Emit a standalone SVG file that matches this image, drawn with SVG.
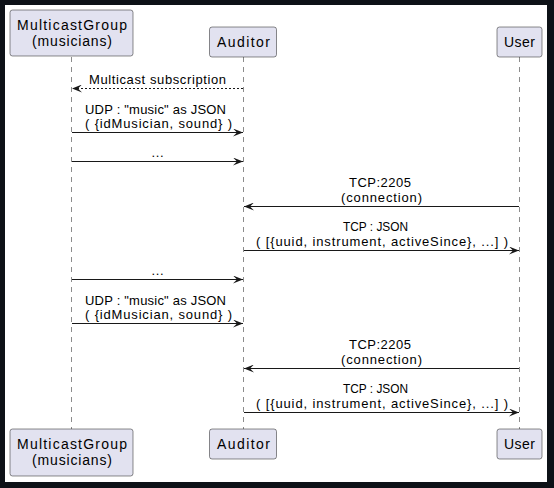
<svg xmlns="http://www.w3.org/2000/svg" width="554" height="488" viewBox="0 0 554 488">
<defs>
<style>
.p rect{fill:#E2E2F0;stroke:#181818;stroke-width:0.5}
.pt{font-family:"Liberation Sans",Arial,sans-serif;font-size:14px;fill:#000;text-anchor:middle}
.mt{font-family:"Liberation Sans",Arial,sans-serif;font-size:13px;fill:#000}
.life{stroke:#181818;stroke-width:0.5;stroke-dasharray:5,5;fill:none}
.msg{stroke:#181818;stroke-width:1;fill:none;marker-end:url(#ah)}
.dot{stroke-dasharray:2,2}
</style>
<marker id="ah" viewBox="0 0 10 8" markerWidth="10" markerHeight="8" refX="10" refY="4" orient="auto" markerUnits="userSpaceOnUse">
<path d="M0,0 L10,4 L0,8 L4,4 Z" fill="#181818"/>
</marker>
</defs>
<rect x="0" y="0" width="554" height="488" fill="#0D1117"/>
<rect x="5" y="5" width="542" height="477" fill="#FFFFFF"/>
<g id="lifelines">
<line class="life" x1="71.5" y1="57" x2="71.5" y2="429"/>
<line class="life" x1="243.5" y1="57" x2="243.5" y2="429"/>
<line class="life" x1="519.5" y1="57" x2="519.5" y2="429"/>
</g>
<g id="multicastgroup" class="p">
<rect x="10" y="10" width="123" height="46" rx="2.5"/>
<text class="pt" x="72" y="30" textLength="110" lengthAdjust="spacing">MulticastGroup</text>
<text class="pt" x="72" y="45.5" textLength="80" lengthAdjust="spacing">(musicians)</text>
<rect x="10" y="429" width="123" height="47" rx="2.5"/>
<text class="pt" x="72" y="449" textLength="110" lengthAdjust="spacing">MulticastGroup</text>
<text class="pt" x="72" y="464.5" textLength="80" lengthAdjust="spacing">(musicians)</text>
</g>
<g id="auditor" class="p">
<rect x="209.5" y="27" width="67" height="30" rx="2.5"/>
<text class="pt" x="243.5" y="47" textLength="53" lengthAdjust="spacing">Auditor</text>
<rect x="209.5" y="429" width="67" height="30" rx="2.5"/>
<text class="pt" x="243.5" y="449" textLength="53" lengthAdjust="spacing">Auditor</text>
</g>
<g id="user" class="p">
<rect x="497" y="27" width="45" height="30" rx="2.5"/>
<text class="pt" x="519.5" y="47" textLength="31" lengthAdjust="spacing">User</text>
<rect x="497" y="429" width="45" height="30" rx="2.5"/>
<text class="pt" x="519.5" y="449" textLength="31" lengthAdjust="spacing">User</text>
</g>
<g id="connectors">
<line class="msg dot" x1="243" y1="88.5" x2="72" y2="88.5"/>
<text class="mt" x="89" y="83.5" textLength="137" lengthAdjust="spacing">Multicast subscription</text>
<line class="msg" x1="72" y1="132.5" x2="243" y2="132.5"/>
<text class="mt" x="85" y="113.5" textLength="141" lengthAdjust="spacing">UDP : "music" as JSON</text>
<text class="mt" x="85" y="128" textLength="147" lengthAdjust="spacing">( {idMusician, sound} )</text>
<line class="msg" x1="72" y1="161.5" x2="243" y2="161.5"/>
<text class="mt" x="151.5" y="156.5" textLength="12" lengthAdjust="spacing">...</text>
<line class="msg" x1="519" y1="206.5" x2="244" y2="206.5"/>
<text class="mt" x="349" y="186.5" textLength="62" lengthAdjust="spacing">TCP:2205</text>
<text class="mt" x="341" y="201.5" textLength="81" lengthAdjust="spacing">(connection)</text>
<line class="msg" x1="244" y1="250.5" x2="519" y2="250.5"/>
<text class="mt" x="343" y="230.5" textLength="65" lengthAdjust="spacingAndGlyphs">TCP : JSON</text>
<text class="mt" x="256" y="245.5" textLength="252" lengthAdjust="spacing">( [{uuid, instrument, activeSince}, ...] )</text>
<line class="msg" x1="72" y1="279.5" x2="243" y2="279.5"/>
<text class="mt" x="151.5" y="274.5" textLength="12" lengthAdjust="spacing">...</text>
<line class="msg" x1="72" y1="323.5" x2="243" y2="323.5"/>
<text class="mt" x="85" y="304.5" textLength="141" lengthAdjust="spacing">UDP : "music" as JSON</text>
<text class="mt" x="85" y="319" textLength="147" lengthAdjust="spacing">( {idMusician, sound} )</text>
<line class="msg" x1="519" y1="368.5" x2="244" y2="368.5"/>
<text class="mt" x="349" y="348.5" textLength="62" lengthAdjust="spacing">TCP:2205</text>
<text class="mt" x="341" y="363.5" textLength="81" lengthAdjust="spacing">(connection)</text>
<line class="msg" x1="244" y1="412.5" x2="519" y2="412.5"/>
<text class="mt" x="343" y="392.5" textLength="65" lengthAdjust="spacingAndGlyphs">TCP : JSON</text>
<text class="mt" x="256" y="407.5" textLength="252" lengthAdjust="spacing">( [{uuid, instrument, activeSince}, ...] )</text>
</g>
</svg>
